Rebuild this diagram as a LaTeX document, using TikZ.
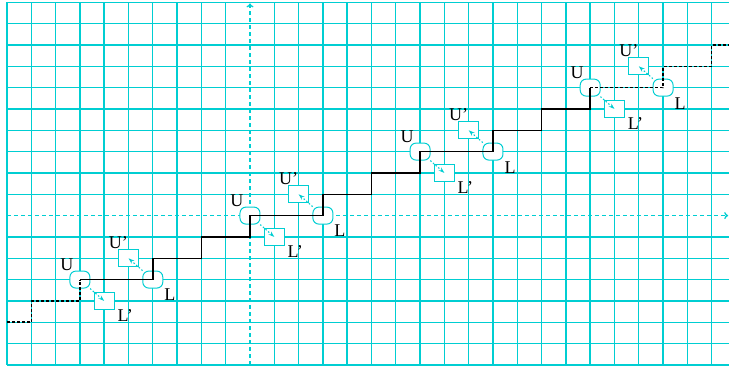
\documentclass[tikz,border=0pt]{standalone}
\usepackage{fontspec}
\setmainfont{Liberation Serif}
\usetikzlibrary{arrows.meta}
\definecolor{gridc}{RGB}{0,206,210}
\begin{document}
\begin{tikzpicture}[x=24.3pt,y=21.33pt,
  gridline/.style={draw=gridc,line width=1.4pt},
  axisline/.style={draw=gridc,line width=1.3pt,dash pattern=on 4pt off 3pt},
  ptbox/.style={draw=gridc,fill=white,line width=1pt,rounded corners=6pt,minimum width=20pt,minimum height=17pt,inner sep=0pt},
  sqbox/.style={draw=gridc,fill=white,line width=1pt,minimum width=20pt,minimum height=17.3pt,inner sep=0pt},
  stair/.style={draw=black,line width=1.5pt},
  stairdash/.style={stair,dash pattern=on 3pt off 2pt},
  lab/.style={font=\fontsize{18}{21}\selectfont,inner sep=0pt},
  movearrow/.style={draw=gridc,line width=1.1pt,dash pattern=on 1.5pt off 2pt,-{Stealth[length=6pt,width=4pt]}}
]
\useasboundingbox (-10.288,-7.051) rectangle (19.712,10.108);
% grid
\foreach \i in {-10,...,-1,1,2,...,19} \draw[gridline] (\i,-7) -- (\i,10);
\foreach \j in {-7,...,-1,1,2,...,10} \draw[gridline] (-10,\j) -- (19.712,\j);
% axes
\coordinate (xs) at (-10,0);
\coordinate (xe) at (19.68,0);
\coordinate (ys) at (0,-7);
\coordinate (ye) at (0,9.95);
\draw[axisline,-{To[length=4pt,width=7pt]}] (xs) -- (xe);
\draw[axisline,-{To[length=4pt,width=7pt]}] (ys) -- (ye);
% boxes
\foreach \k in {0,1,2,3}{
  \pgfmathsetmacro\ux{-7+7*\k}
  \pgfmathsetmacro\uy{-3+3*\k}
  \node[ptbox] (U\k) at (\ux,\uy) {};
  \node[ptbox] (L\k) at (\ux+3,\uy) {};
  \node[sqbox] (Up\k) at (\ux+2,\uy+1) {};
  \node[sqbox] (Lp\k) at (\ux+1,\uy-1) {};
}
% staircase
\coordinate (s0) at (-10,-5);
\coordinate (sEnd) at (19.712,8);
\draw[stairdash] (s0) -- ++(1,0) -- ++(0,1) -- ++(2,0) -- (U0.center);
\draw[stair] (U0.center) -- (L0.center) -- ++(0,1) -- ++(2,0) -- ++(0,1) -- ++(2,0) -- (U1.center)
  -- (L1.center) -- ++(0,1) -- ++(2,0) -- ++(0,1) -- ++(2,0) -- (U2.center)
  -- (L2.center) -- ++(0,1) -- ++(2,0) -- ++(0,1) -- ++(2,0) -- (U3.center);
\draw[stairdash] (U3.center) -- (L3.center) -- ++(0,1) -- ++(2,0) -- ++(0,1) -- (sEnd);
% arrows and labels
\foreach \k in {0,1,2,3}{
  \draw[movearrow] (U\k) -- (Lp\k.center);
  \draw[movearrow] (L\k) -- (Up\k.center);
  \node[lab] (tU\k) at ([shift={(-13pt,15pt)}]U\k.center) {U};
  \node[lab] (tL\k) at ([shift={(17pt,-15.5pt)}]L\k.center) {L};
  \node[lab] (tUp\k) at ([shift={(-10pt,16pt)}]Up\k.center) {U’};
  \node[lab] (tLp\k) at ([shift={(21pt,-15pt)}]Lp\k.center) {L’};
}
\end{tikzpicture}
\end{document}
